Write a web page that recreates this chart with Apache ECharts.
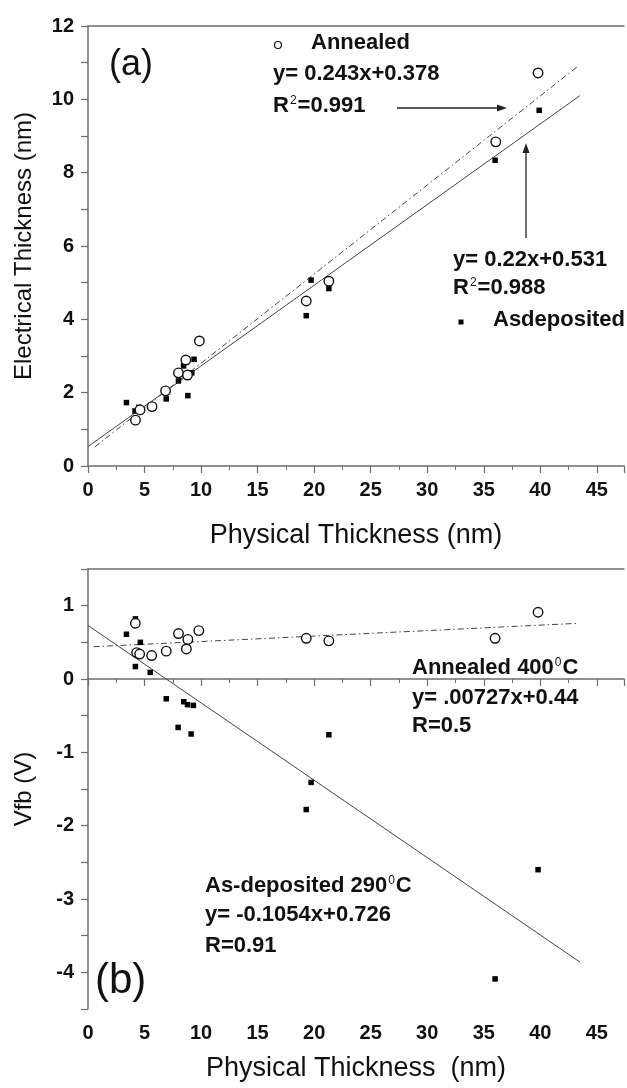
<!DOCTYPE html>
<html>
<head>
<meta charset="utf-8">
<script src="https://cdn.jsdelivr.net/npm/echarts@6/dist/echarts.min.js"></script>
<style>
  html, body { margin: 0; padding: 0; background: #fff; }
  #chart { width: 627px; height: 1088px; }
</style>
</head>
<body>
<div id="chart"></div>
<script>
// panel (a): electrical vs physical thickness
const annealedA = [
  [4.2, 1.25], [4.6, 1.53], [5.66, 1.62], [6.86, 2.05], [8.0, 2.54],
  [8.65, 2.89], [8.8, 2.48], [9.85, 3.41],
  [19.3, 4.5], [21.3, 5.04], [36.06, 8.84], [39.8, 10.72]
]
const asdepA = [
  [3.4, 1.73], [4.16, 1.5], [4.5, 1.6], [6.92, 1.83], [8.0, 2.32],
  [8.45, 2.73], [8.83, 1.92], [9.18, 2.54], [9.38, 2.91],
  [19.73, 5.07], [19.3, 4.1], [21.3, 4.84], [36.0, 8.34], [39.9, 9.7]
]
const annealFitA = [[0.6, 0.52], [43.4, 10.92]]
const asdepFitA = [[0, 0.53], [43.5, 10.1]]

// panel (b): flat band voltage vs physical thickness
const annealedB = [
  [4.19, 0.76], [4.3, 0.36], [4.57, 0.34], [5.63, 0.32], [6.92, 0.38],
  [8.0, 0.62], [8.83, 0.54], [8.7, 0.41], [9.8, 0.66],
  [19.3, 0.555], [21.3, 0.52], [36.0, 0.555], [39.8, 0.91]
]
const asdepB = [
  [3.4, 0.61], [4.19, 0.82], [4.63, 0.5], [4.19, 0.17], [5.5, 0.09],
  [6.92, -0.27], [7.97, -0.66], [8.47, -0.31], [8.8, -0.35], [9.32, -0.36],
  [9.12, -0.75], [21.3, -0.76], [19.73, -1.41], [19.3, -1.78],
  [39.8, -2.6], [36.0, -4.09]
]
const annealFitB = [[0.5, 0.44], [43.4, 0.76]]
const asdepFitB = [[0, 0.73], [43.5, -3.86]]

const FONT = 'Liberation Sans, Arial, sans-serif'
const AXIS_COLOR = '#6e6e6e'
const DASH_DOT = [6, 3, 1.5, 3]

const chart = echarts.init(document.getElementById('chart'))

const isInt = (v) => Math.abs(v - Math.round(v)) < 1e-6

const bottomX = (gridIndex, name, gap) => ({
  type: 'value',
  gridIndex,
  min: 0,
  max: 47.4,
  interval: 5,
  name,
  nameLocation: 'middle',
  nameGap: gap,
  nameTextStyle: { fontFamily: FONT, fontSize: 27, color: '#111' },
  axisLine: { lineStyle: { color: AXIS_COLOR, width: 1.5 } },
  axisTick: { length: 7, lineStyle: { color: AXIS_COLOR, width: 1.2 } },
  minorTick: { show: true, splitNumber: 2, length: 4, lineStyle: { color: AXIS_COLOR } },
  splitLine: { show: false },
  axisLabel: {
    margin: 14,
    fontFamily: FONT,
    fontSize: 20,
    fontWeight: 'bold',
    color: '#111',
    formatter: (v) => (Math.abs(v % 5) < 1e-6 ? String(v) : '')
  }
})

const topBorder = (gridIndex) => ({
  type: 'value',
  gridIndex,
  position: 'top',
  min: 0,
  max: 47.4,
  axisLine: { show: true, lineStyle: { color: AXIS_COLOR, width: 1.5 } },
  axisTick: { show: false },
  axisLabel: { show: false },
  splitLine: { show: false }
})

const leftY = (gridIndex, opts) => ({
  type: 'value',
  gridIndex,
  nameLocation: 'middle',
  nameRotate: 90,
  nameTextStyle: { fontFamily: FONT, fontSize: 24, color: '#111' },
  axisLine: { show: true, lineStyle: { color: AXIS_COLOR, width: 1.5 } },
  axisTick: { length: 7, lineStyle: { color: AXIS_COLOR, width: 1.2 } },
  splitLine: { show: false },
  axisLabel: {
    margin: 14,
    fontFamily: FONT,
    fontSize: 20,
    fontWeight: 'bold',
    color: '#111',
    formatter: (v) => (isInt(v) ? String(Math.round(v)) : '')
  },
  ...opts
})

const scatterOpen = (idx, data) => ({
  type: 'scatter', xAxisIndex: idx, yAxisIndex: idx, data,
  symbol: 'circle', symbolSize: 9.5, z: 5,
  itemStyle: { color: '#fff', borderColor: '#111', borderWidth: 1.4, opacity: 1 }
})
const scatterFilled = (idx, data) => ({
  type: 'scatter', xAxisIndex: idx, yAxisIndex: idx, data,
  symbol: 'rect', symbolSize: 5.5, z: 4,
  itemStyle: { color: '#000', opacity: 1 }
})
const fitLine = (idx, data, dashed) => ({
  type: 'line', xAxisIndex: idx, yAxisIndex: idx, data,
  showSymbol: false, symbol: 'none', z: 3,
  lineStyle: { color: '#444', width: 1, type: dashed ? DASH_DOT : 'solid' }
})

// annotation helpers
const txt = (left, y, text, size, weight) => ({
  type: 'text', left, top: y - size / 2 - 2, silent: true,
  style: { text, fontFamily: FONT, fontSize: size, fontWeight: weight || 'bold', fill: '#111' }
})
const richBase = {
  a: { fontFamily: FONT, fontSize: 22, fontWeight: 'bold', color: '#111' },
  sup: { fontFamily: FONT, fontSize: 12, fontWeight: 'normal', color: '#111', verticalAlign: 'top', padding: [0, 1, 0, 1] }
}
const richTxt = (left, y, text) => ({
  type: 'text', left, top: y - 13, silent: true,
  style: { text, rich: richBase, fill: '#111' }
})

const arrow = (x1, y1, x2, y2) => {
  const ang = Math.atan2(y2 - y1, x2 - x1)
  const len = 10, w = 3.5
  const bx = x2 - len * Math.cos(ang), by = y2 - len * Math.sin(ang)
  const px = -Math.sin(ang) * w, py = Math.cos(ang) * w
  return [
    { type: 'line', silent: true, shape: { x1, y1, x2: bx, y2: by }, style: { stroke: '#222', lineWidth: 1.3 } },
    { type: 'polygon', silent: true, shape: { points: [[x2, y2], [bx + px, by + py], [bx - px, by - py]] }, style: { fill: '#222' } }
  ]
}

chart.setOption({
  animation: false,
  backgroundColor: '#fff',
  grid: [
    { left: 88, top: 26, width: 539, height: 440 },
    { left: 88, top: 569, width: 539, height: 440 }
  ],
  xAxis: [
    bottomX(0, 'Physical Thickness (nm)', 56),
    bottomX(1, 'Physical Thickness  (nm)', 46),
    topBorder(0),
    topBorder(1)
  ],
  yAxis: [
    leftY(0, {
      min: 0, max: 12, interval: 2,
      minorTick: { show: true, splitNumber: 2, length: 7, lineStyle: { color: AXIS_COLOR, width: 1.2 } },
      name: 'Electrical Thickness (nm)', nameGap: 52
    }),
    leftY(1, {
      min: -4.5, max: 1.5, interval: 0.5,
      name: 'Vfb (V)', nameGap: 52
    })
  ],
  series: [
    fitLine(0, annealFitA, true),
    fitLine(0, asdepFitA, false),
    scatterFilled(0, asdepA),
    scatterOpen(0, annealedA),
    fitLine(1, annealFitB, true),
    fitLine(1, asdepFitB, false),
    scatterFilled(1, asdepB),
    scatterOpen(1, annealedB)
  ],
  graphic: [
    txt(109, 67, '(a)', 36, 'normal'),
    { type: 'circle', silent: true, shape: { cx: 278, cy: 45, r: 3.5 }, style: { fill: '#fff', stroke: '#111', lineWidth: 1.2 } },
    txt(311, 45, 'Annealed', 22),
    txt(273, 76, 'y= 0.243x+0.378', 22),
    richTxt(273, 108, '{a|R}{sup|2}{a|=0.991}'),
    ...arrow(397, 108, 507, 108),
    ...arrow(526, 238, 526, 143),
    txt(453, 262, 'y= 0.22x+0.531', 22),
    richTxt(453, 290, '{a|R}{sup|2}{a|=0.988}'),
    { type: 'rect', silent: true, shape: { x: 458.5, y: 319.5, width: 5, height: 5 }, style: { fill: '#000' } },
    txt(493, 322, 'Asdeposited', 22),

    txt(95, 983, '(b)', 42, 'normal'),
    richTxt(412, 670, '{a|Annealed 400}{sup|0}{a|C}'),
    txt(412, 700, 'y= .00727x+0.44', 22),
    txt(412, 728, 'R=0.5', 22),
    richTxt(205, 888, '{a|As-deposited 290}{sup|0}{a|C}'),
    txt(205, 917, 'y= -0.1054x+0.726', 22),
    txt(205, 948, 'R=0.91', 22)
  ]
})
</script>
</body>
</html>
